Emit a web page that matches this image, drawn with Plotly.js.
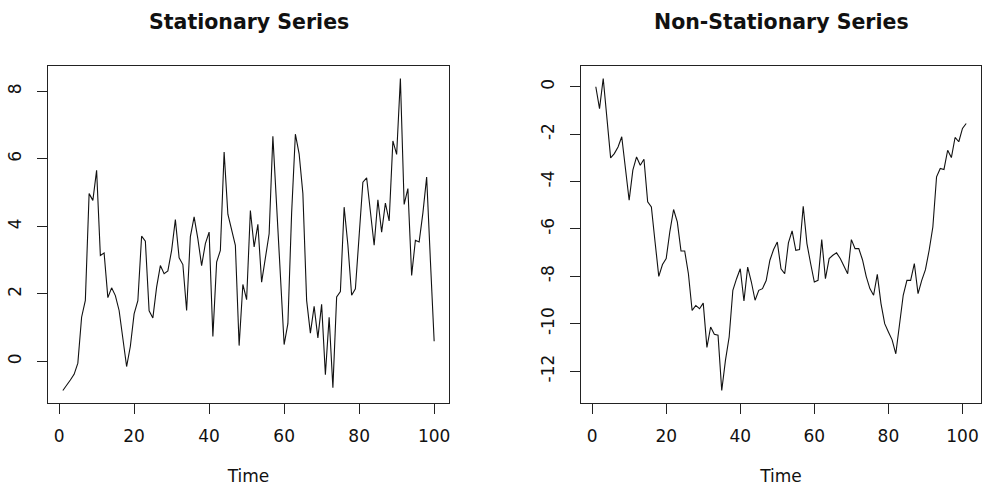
<!DOCTYPE html>
<html>
<head>
<meta charset="utf-8">
<script src="https://cdn.plot.ly/plotly-3.0.1.min.js"></script>
<style>
html,body{margin:0;padding:0;background:#ffffff;}
#chart{width:982px;height:486px;}
</style>
</head>
<body>
<div id="chart"></div>
<script>
// ---- data ----
const stationaryTime = [1,2,3,4,5,6,7,8,9,10,11,12,13,14,15,16,17,18,19,20,21,22,23,24,25,26,27,28,29,30,31,32,33,34,35,36,37,38,39,40,41,42,43,44,45,46,47,48,49,50,51,52,53,54,55,56,57,58,59,60,61,62,63,64,65,66,67,68,69,70,71,72,73,74,75,76,77,78,79,80,81,82,83,84,85,86,87,88,89,90,91,92,93,94,95,96,97,98,99,100];
const stationaryValues = [
  -0.86,-0.72,-0.55,-0.38,-0.05,1.31,1.81,4.97,4.77,5.66,
  3.14,3.21,1.89,2.18,1.95,1.51,0.75,-0.15,0.45,1.41,
  1.80,3.71,3.56,1.50,1.29,2.20,2.84,2.60,2.68,3.29,
  4.20,3.07,2.87,1.51,3.70,4.28,3.63,2.84,3.49,3.83,
  0.74,2.94,3.29,6.20,4.36,3.88,3.44,0.47,2.28,1.83,
  4.47,3.39,4.06,2.35,3.01,3.78,6.67,4.60,2.50,0.50,
  1.12,4.40,6.73,6.15,4.97,1.81,0.84,1.63,0.70,1.69,
  -0.39,1.31,-0.78,1.91,2.07,4.57,3.45,1.96,2.15,3.90,
  5.31,5.44,4.38,3.44,4.79,3.83,4.69,4.16,6.53,6.13,
  8.38,4.65,5.12,2.55,3.59,3.54,4.40,5.46,2.99,0.60
];
const nonStationaryTime = [1,2,3,4,5,6,7,8,9,10,11,12,13,14,15,16,17,18,19,20,21,22,23,24,25,26,27,28,29,30,31,32,33,34,35,36,37,38,39,40,41,42,43,44,45,46,47,48,49,50,51,52,53,54,55,56,57,58,59,60,61,62,63,64,65,66,67,68,69,70,71,72,73,74,75,76,77,78,79,80,81,82,83,84,85,86,87,88,89,90,91,92,93,94,95,96,97,98,99,100,101];
const nonStationaryValues = [
  0.00,-0.92,0.35,-1.30,-3.00,-2.82,-2.54,-2.11,-3.45,-4.79,
  -3.52,-2.96,-3.31,-3.06,-4.86,-5.07,-6.55,-8.00,-7.50,-7.25,
  -6.10,-5.18,-5.70,-6.93,-6.93,-7.89,-9.44,-9.23,-9.37,-9.13,
  -11.00,-10.14,-10.45,-10.49,-12.82,-11.55,-10.56,-8.59,-8.10,-7.68,
  -9.04,-7.61,-8.24,-9.01,-8.59,-8.52,-8.18,-7.32,-6.87,-6.55,
  -7.68,-7.89,-6.59,-6.08,-6.90,-6.87,-5.04,-6.62,-7.46,-8.24,
  -8.17,-6.45,-8.10,-7.25,-7.11,-7.01,-7.25,-7.58,-7.89,-6.45,
  -6.83,-6.83,-7.30,-8.00,-8.52,-8.80,-7.92,-9.15,-10.00,-10.35,
  -10.68,-11.27,-10.00,-8.80,-8.17,-8.17,-7.46,-8.73,-8.17,-7.72,
  -6.90,-5.92,-3.80,-3.45,-3.49,-2.68,-2.99,-2.14,-2.32,-1.76,
  -1.55
];
const titles = ["Stationary Series", "Non-Stationary Series"];
const xTitle = "Time";
const xTickVals = [0,20,40,60,80,100];
const xTickText = ["0","20","40","60","80","100"];
const leftYTickVals = [0,2,4,6,8];
const leftYTickText = ["0","2","4","6","8"];
const rightYTickVals = [-12,-10,-8,-6,-4,-2,0];
const rightYTickText = ["-12","-10","-8","-6","-4","-2","0"];

// ---- layout helpers ----
const W = 982, H = 486;
const px = x => x / W;
const py = y => 1 - y / H;
function padRange(arr){
  const mn = Math.min(...arr), mx = Math.max(...arr), d = (mx - mn) * 0.04;
  return [mn - d, mx + d];
}
const FONT = "DejaVu Sans, Verdana, sans-serif";
const ink = "#111111";

const axisBase = {
  showline: true, mirror: true, linecolor: "#222", linewidth: 1,
  ticks: "outside", ticklen: 10, tickwidth: 1, tickcolor: "#222",
  showgrid: false, zeroline: false, fixedrange: true,
  tickfont: {family: FONT, size: 17, color: ink}
};

const traces = [
  {x: stationaryTime, y: stationaryValues, type: "scatter", mode: "lines",
   line: {color: "#111", width: 1.1}, xaxis: "x", yaxis: "y", hoverinfo: "x+y"},
  {x: nonStationaryTime, y: nonStationaryValues, type: "scatter", mode: "lines",
   line: {color: "#111", width: 1.1}, xaxis: "x2", yaxis: "y2", hoverinfo: "x+y"}
];

const yDomain = [py(403), py(66)];

const layout = {
  width: W, height: H,
  margin: {l: 0, r: 0, t: 0, b: 0},
  paper_bgcolor: "#ffffff", plot_bgcolor: "#ffffff",
  showlegend: false,
  font: {family: FONT, color: ink},
  xaxis: Object.assign({}, axisBase, {
    domain: [px(48), px(449)], range: padRange(stationaryTime),
    tickmode: "array", tickvals: xTickVals, ticktext: xTickText,
    anchor: "y", ticklabelstandoff: 8,
    title: {text: xTitle, font: {family: FONT, size: 17, color: ink}, standoff: 27}
  }),
  yaxis: Object.assign({}, axisBase, {
    domain: yDomain, range: padRange(stationaryValues),
    tickmode: "array", tickvals: leftYTickVals, ticktext: leftYTickText,
    tickangle: -90, anchor: "x", ticklabelstandoff: 9
  }),
  xaxis2: Object.assign({}, axisBase, {
    domain: [px(581), px(981)], range: padRange(nonStationaryTime),
    tickmode: "array", tickvals: xTickVals, ticktext: xTickText,
    anchor: "y2", ticklabelstandoff: 8,
    title: {text: xTitle, font: {family: FONT, size: 17, color: ink}, standoff: 27}
  }),
  yaxis2: Object.assign({}, axisBase, {
    domain: yDomain, range: padRange(nonStationaryValues),
    tickmode: "array", tickvals: rightYTickVals, ticktext: rightYTickText,
    tickangle: -90, anchor: "x2", ticklabelstandoff: 9
  }),
  annotations: [
    {text: "<b>" + titles[0] + "</b>", xref: "paper", yref: "paper",
     x: px(249), y: py(22), xanchor: "center", yanchor: "middle", showarrow: false,
     font: {family: FONT, size: 20.5, color: ink}},
    {text: "<b>" + titles[1] + "</b>", xref: "paper", yref: "paper",
     x: px(781), y: py(22), xanchor: "center", yanchor: "middle", showarrow: false,
     font: {family: FONT, size: 20.5, color: ink}}
  ]
};

Plotly.newPlot("chart", traces, layout, {staticPlot: true, displayModeBar: false});
</script>
</body>
</html>
